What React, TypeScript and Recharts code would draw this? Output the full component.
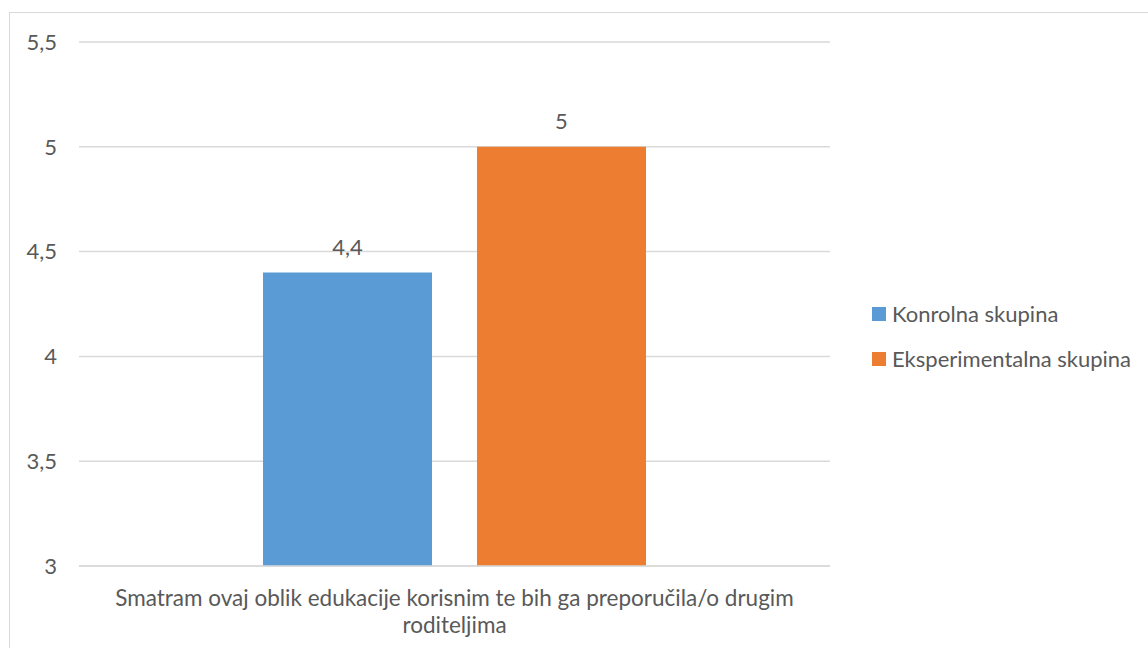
import React from "react";
import {
  BarChart,
  Bar,
  XAxis,
  YAxis,
  CartesianGrid,
  Legend,
  LabelList,
} from "recharts";

const categories = [
  "Smatram ovaj oblik edukacije korisnim te bih ga preporučila/o drugim roditeljima",
];
const kontrolnaValues = [4.4];
const eksperimentalnaValues = [5];
const yTicks = [3, 3.5, 4, 4.5, 5, 5.5];
const seriesNames = ["Konrolna skupina", "Eksperimentalna skupina"];
const seriesColors = ["#5b9bd5", "#ed7d31"];

const data = categories.map((c, i) => ({
  name: c,
  kontrolna: kontrolnaValues[i],
  eksperimentalna: eksperimentalnaValues[i],
}));

const FONT = "Lato, 'Noto Sans', sans-serif";
const TEXT = "#595959";
const XFONT_SIZE = 22.5;

const fmt = (v: any) => String(v).replace(".", ",");

let measureCtx: CanvasRenderingContext2D | null = null;
const measure = (s: string) => {
  if (!measureCtx && typeof document !== "undefined") {
    measureCtx = document.createElement("canvas").getContext("2d");
  }
  if (!measureCtx) return s.length * XFONT_SIZE * 0.5;
  measureCtx.font = `${XFONT_SIZE}px ${FONT}`;
  return measureCtx.measureText(s).width;
};

const wrap = (s: string, maxW: number) => {
  const words = s.split(" ");
  const lines: string[] = [];
  let cur = "";
  words.forEach((w) => {
    const next = cur ? cur + " " + w : w;
    if (cur && measure(next) > maxW) {
      lines.push(cur);
      cur = w;
    } else {
      cur = next;
    }
  });
  if (cur) lines.push(cur);
  return lines;
};

const XTick = (props: any) => {
  const { x, y, payload } = props;
  const lines = wrap(String(payload.value), 720);
  return (
    <text
      x={x}
      y={y}
      textAnchor="middle"
      fill={TEXT}
      fontSize={XFONT_SIZE}
      fontFamily={FONT}
    >
      {lines.map((l, i) => (
        <tspan key={i} x={x} dy={i === 0 ? 16 : 27}>
          {l}
        </tspan>
      ))}
    </text>
  );
};

const LegendContent = () => (
  <div style={{ fontFamily: FONT, fontSize: 22, color: TEXT }}>
    {seriesNames.map((n, i) => (
      <div
        key={n}
        style={{ display: "flex", alignItems: "center", height: 45, whiteSpace: "nowrap" }}
      >
        <span
          style={{
            display: "inline-block",
            width: 14,
            height: 14,
            background: seriesColors[i],
            marginRight: 6,
          }}
        />
        <span>{n}</span>
      </div>
    ))}
  </div>
);

export default function App() {
  return (
    <div
      style={{
        position: "fixed",
        left: 0,
        top: 0,
        width: 1148,
        height: 648,
        background: "#ffffff",
        overflow: "hidden",
      }}
    >
      <div
        style={{
          position: "absolute",
          left: 9,
          top: 12,
          width: 1200,
          height: 700,
          borderLeft: "1.5px solid #d9d9d9",
          borderTop: "1.5px solid #d9d9d9",
        }}
      />
      <div style={{ position: "absolute", left: 0, top: 0 }}>
        <BarChart
          width={1148}
          height={648}
          data={data}
          margin={{ top: 42, right: 318, bottom: 0, left: 0 }}
          barSize={169}
          barGap={45}
        >
          <CartesianGrid
            vertical={false}
            stroke="#d9d9d9"
            strokeWidth={1.5}
          />
          <XAxis
            dataKey="name"
            height={82}
            tickLine={false}
            axisLine={{ stroke: "#d9d9d9", strokeWidth: 1.5 }}
            tickSize={0}
            tickMargin={24}
            tick={<XTick />}
            interval={0}
          />
          <YAxis
            width={79}
            domain={[3, 5.5]}
            ticks={yTicks}
            type="number"
            allowDataOverflow
            axisLine={false}
            tickLine={false}
            tickSize={0}
            tickMargin={22}
            tickFormatter={fmt}
            tick={{ fill: TEXT, fontSize: 22, fontFamily: FONT }}
          />
          <Legend
            layout="horizontal"
            verticalAlign="middle"
            align="center"
            content={<LegendContent />}
            wrapperStyle={{ position: "absolute", left: 872, top: 291, width: 276 }}
          />
          <Bar
            dataKey="kontrolna"
            name={seriesNames[0]}
            fill={seriesColors[0]}
            isAnimationActive={false}
          >
            <LabelList
              dataKey="kontrolna"
              position="top"
              offset={18}
              formatter={fmt}
              fill={TEXT}
              fontSize={22}
              fontFamily={FONT}
            />
          </Bar>
          <Bar
            dataKey="eksperimentalna"
            name={seriesNames[1]}
            fill={seriesColors[1]}
            isAnimationActive={false}
          >
            <LabelList
              dataKey="eksperimentalna"
              position="top"
              offset={18}
              formatter={fmt}
              fill={TEXT}
              fontSize={22}
              fontFamily={FONT}
            />
          </Bar>
        </BarChart>
      </div>
    </div>
  );
}
